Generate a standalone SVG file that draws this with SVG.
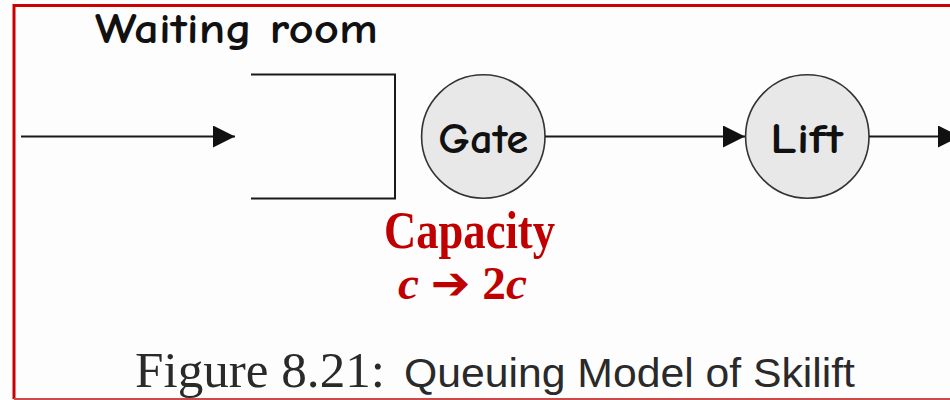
<svg xmlns="http://www.w3.org/2000/svg" width="950" height="400" viewBox="0 0 950 400">
  <style>
    .hand { font-family: "Comic Neue", "DejaVu Sans", "Liberation Sans", sans-serif; font-weight: bold; fill: #111; }
    .node circle { fill: #e8e8e8; stroke: #333; stroke-width: 1.6; }
    .wire { stroke: #1a1a1a; stroke-width: 2; fill: none; }
    .note { font-family: "Liberation Serif", "Times New Roman", serif; font-weight: bold; fill: #c00000; }
    .sym { font-family: "DejaVu Sans", sans-serif; font-weight: bold; font-style: normal; }
    .cap-serif { font-family: "Liberation Serif", "Times New Roman", serif; fill: #2a2a2a; }
    .cap-sans { font-family: "Liberation Sans", Arial, sans-serif; fill: #2a2a2a; }
  </style>
  <defs>
    <marker id="head" viewBox="0 0 22 22" refX="22" refY="11" markerWidth="22" markerHeight="22" markerUnits="userSpaceOnUse" orient="auto">
      <path d="M0,0 L22,11 L0,22 Z" fill="#111"/>
    </marker>
  </defs>

  <rect width="950" height="400" fill="#fdfdfd"/>

  <!-- frame -->
  <path d="M952,5.5 H14 V399" fill="none" stroke="#cc0000" stroke-width="3"/>
  <line x1="14" y1="399" x2="952" y2="399" stroke="#cc4a4a" stroke-width="1.8"/>

  <!-- waiting room queue -->
  <g id="waiting-room">
    <path class="wire" d="M251,74.5 H395 V198.5 H251"/>
    <text class="hand" x="95" y="43" font-size="42" textLength="283" lengthAdjust="spacingAndGlyphs">Waiting room</text>
  </g>

  <g id="gate" class="node">
    <circle cx="483.3" cy="136.5" r="61.7"/>
    <text class="hand" x="483.3" y="152.5" font-size="42" text-anchor="middle" textLength="90" lengthAdjust="spacingAndGlyphs">Gate</text>
  </g>

  <g id="lift" class="node">
    <circle cx="807.3" cy="136.5" r="61.7"/>
    <text class="hand" x="806.5" y="152.5" font-size="42" text-anchor="middle" textLength="73" lengthAdjust="spacingAndGlyphs">Lift</text>
  </g>

  <!-- connectors -->
  <g id="connectors">
    <line class="wire" x1="21" y1="136.5" x2="235" y2="136.5" marker-end="url(#head)"/>
    <line class="wire" x1="545" y1="136.5" x2="745" y2="136.5" marker-end="url(#head)"/>
    <line class="wire" x1="869" y1="136.5" x2="960" y2="136.5" marker-end="url(#head)"/>
  </g>

  <!-- capacity note -->
  <g id="capacity-note">
    <text class="note" x="384" y="248" font-size="52" textLength="171" lengthAdjust="spacingAndGlyphs">Capacity</text>
    <text class="note" x="398" y="299" font-size="46" textLength="129" lengthAdjust="spacingAndGlyphs"><tspan font-style="italic">c</tspan> <tspan class="sym" font-size="46">➔</tspan> 2<tspan font-style="italic">c</tspan></text>
  </g>

  <!-- caption -->
  <g id="caption">
    <text class="cap-serif" x="135" y="387" font-size="51" textLength="250" lengthAdjust="spacingAndGlyphs">Figure 8.21:</text>
    <text class="cap-sans" x="404" y="387" font-size="41" textLength="451" lengthAdjust="spacingAndGlyphs">Queuing Model of Skilift</text>
  </g>
</svg>
